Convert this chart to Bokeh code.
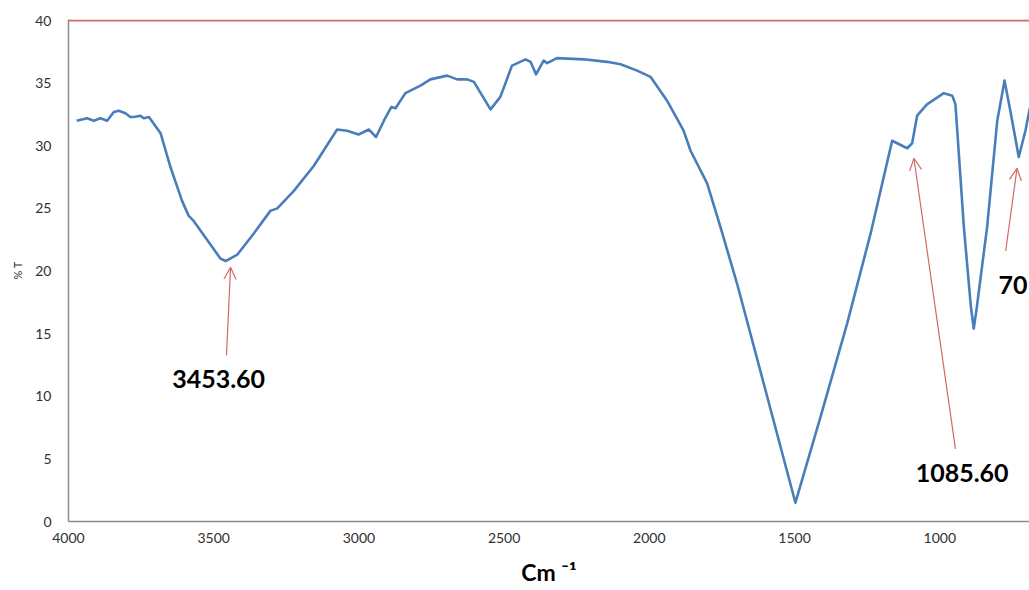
from bokeh.plotting import figure
from bokeh.models import Range1d, FixedTicker, Span, Label, Arrow, OpenHead
from bokeh.embed import file_html
from bokeh.resources import INLINE

# ---- data ----
wavenumber = [3972, 3936, 3913, 3890, 3867, 3844, 3827, 3804, 3787, 3775,
              3752, 3741, 3723, 3683, 3649, 3609, 3586, 3569, 3477, 3459,
              3442, 3419, 3362, 3305, 3281, 3224, 3155, 3075, 3041, 3001,
              2966, 2941, 2914, 2888, 2874, 2840, 2788, 2754, 2696, 2662,
              2627, 2604, 2547, 2513, 2473, 2426, 2409, 2390, 2364, 2352,
              2318, 2226, 2146, 2099, 2042, 1996, 1939, 1882, 1858, 1801,
              1755, 1698, 1606, 1497, 1410, 1319, 1238, 1164, 1112, 1095,
              1078, 1044, 986, 957, 946, 917, 893, 883, 873, 837,
              802, 777, 757, 728, 705, 690]
transmittance = [32.0, 32.2, 32.0, 32.2, 32.0, 32.7, 32.8, 32.6, 32.3, 32.3,
                 32.4, 32.2, 32.3, 31.0, 28.3, 25.6, 24.4, 24.0, 21.0, 20.8,
                 21.0, 21.3, 23.0, 24.8, 25.0, 26.4, 28.4, 31.3, 31.2, 30.9,
                 31.3, 30.7, 32.0, 33.1, 33.0, 34.2, 34.8, 35.3, 35.6, 35.3,
                 35.3, 35.1, 32.9, 33.9, 36.4, 36.9, 36.7, 35.7, 36.8, 36.6,
                 37.0, 36.9, 36.7, 36.5, 36.0, 35.5, 33.6, 31.2, 29.6, 27.0,
                 23.5, 19.0, 11.0, 1.5, 8.4, 15.8, 23.0, 30.4, 29.8, 30.2,
                 32.4, 33.3, 34.2, 34.0, 33.3, 23.5, 17.2, 15.4, 17.0, 23.5,
                 32.0, 35.2, 32.8, 29.1, 31.2, 33.0]
x_ticks = [4000, 3500, 3000, 2500, 2000, 1500, 1000]
y_ticks = [0, 5, 10, 15, 20, 25, 30, 35, 40]
peak_labels = ["3453.60", "1085.60", "70"]

BLUE = "#4A7EBB"
RED = "#D06A66"
AXIS_GRAY = "#8C8C8C"
FONT = "Lato"

p = figure(width=1029, height=590, output_backend="svg", toolbar_location=None,
           x_range=Range1d(4000, 691), y_range=Range1d(0, 40.08),
           min_border_left=68, min_border_right=0, min_border_top=19,
           min_border_bottom=69)
p.outline_line_color = None
p.xgrid.grid_line_color = None
p.ygrid.grid_line_color = None
p.background_fill_color = "white"
p.border_fill_color = "white"

for ax in (p.xaxis[0], p.yaxis[0]):
    ax.axis_line_color = AXIS_GRAY
    ax.axis_line_width = 1.5
    ax.major_tick_line_color = None
    ax.minor_tick_line_color = None
    ax.major_tick_out = 0
    ax.major_tick_in = 0
    ax.major_label_text_font = FONT
    ax.major_label_text_font_size = "14px"
    ax.major_label_text_color = "#303030"

p.xaxis.ticker = FixedTicker(ticks=x_ticks)
p.yaxis.ticker = FixedTicker(ticks=y_ticks)
p.xaxis.major_label_standoff = 11
p.yaxis.major_label_standoff = 17
p.yaxis.axis_label = "% T"
p.yaxis.axis_label_text_font = FONT
p.yaxis.axis_label_text_font_size = "11px"
p.yaxis.axis_label_text_font_style = "normal"
p.yaxis.axis_label_text_color = "#303030"
p.yaxis.axis_label_standoff = 8

# x-axis title "Cm -1"
p.xaxis.axis_label = "Cm \u207b\u00b9"
p.xaxis.axis_label_text_font = FONT
p.xaxis.axis_label_text_font_size = "23px"
p.xaxis.axis_label_text_font_style = "bold"
p.xaxis.axis_label_text_color = "black"
p.xaxis.axis_label_standoff = 12

# top red line
p.add_layout(Span(location=40, dimension="width", line_color=RED, line_width=2))

# spectrum
p.line(wavenumber, transmittance, line_color=BLUE, line_width=2.6, line_join="round")

# peak annotations
label_pos = [(3483, 11.34, "center"), (923, 3.87, "center"), (798, 18.9, "left")]
for txt, (lx, ly, al) in zip(peak_labels, label_pos):
    p.add_layout(Label(x=lx, y=ly, text=txt, text_align=al, text_baseline="middle",
                       text_font=FONT, text_font_size="25px", text_font_style="bold",
                       text_color="black"))

arrows = [(3456, 13.25, 3442, 20.3), (946, 5.8, 1089, 29.0), (773, 21.6, 734, 28.2)]
for xs, ys, xe, ye in arrows:
    p.add_layout(Arrow(x_start=xs, y_start=ys, x_end=xe, y_end=ye,
                       line_color=RED, line_width=1.2,
                       end=OpenHead(size=12, line_color=RED, line_width=1.2)))

open("out.html", "w").write(file_html(p, INLINE))
